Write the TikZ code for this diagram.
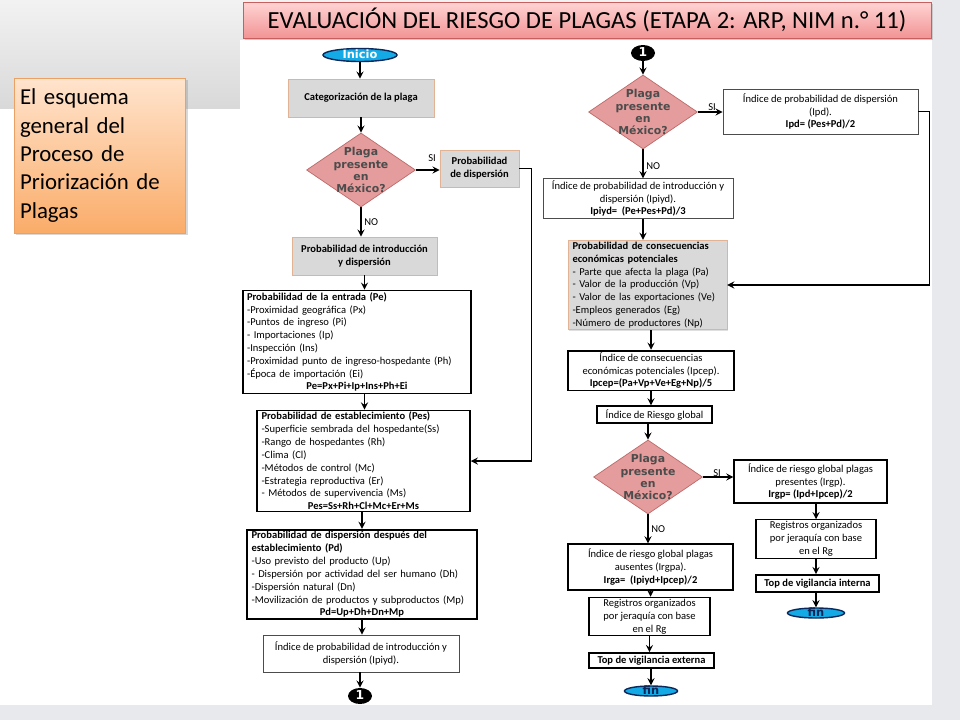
\documentclass[tikz,border=0pt]{standalone}
\usepackage{fontspec}
\setmainfont{Carlito}
\newfontfamily\diafont{DejaVu Sans}
\usetikzlibrary{shapes.geometric}
\usetikzlibrary{shadows}
\definecolor{slidegray}{RGB}{232,233,236}
\definecolor{boxgray}{RGB}{217,217,217}
\definecolor{boxedge}{RGB}{226,178,148}
\definecolor{rhombfill}{RGB}{228,156,156}
\definecolor{rhombedge}{RGB}{190,105,105}
\definecolor{termfill}{RGB}{20,170,230}
\definecolor{termedge}{RGB}{12,40,90}
\definecolor{titletop}{RGB}{255,212,212}
\definecolor{titlebot}{RGB}{242,148,148}
\definecolor{titleedge}{RGB}{200,95,95}
\definecolor{notetop}{RGB}{255,228,205}
\definecolor{notebot}{RGB}{250,172,105}
\definecolor{noteedge}{RGB}{235,160,100}
\newcommand\sumline[1]{\\\hspace*{\fill}\textbf{#1}\hspace*{\fill}\mbox{}}
\tikzset{
	every node/.style={font=\fontsize{6}{7.3}\selectfont},
	plainbox/.style={draw=black!70,fill=white,align=center,inner sep=1pt},
	boldbox/.style={plainbox,draw=black,line width=1pt},
	greybox/.style={plainbox,draw=boxedge,fill=boxgray,drop shadow={shadow xshift=0.6pt,shadow yshift=-0.6pt,opacity=0.25}},
	listbox/.style={draw=black,line width=1pt,fill=white,align=left,inner xsep=2.5pt,inner ysep=1pt},
	rhomb/.style={diamond,aspect=1.45,draw=rhombedge,fill=rhombfill,inner sep=-3pt,minimum width=2.18cm,minimum height=1.48cm,
		font=\diafont\bfseries\fontsize{6.2}{6.9}\selectfont,text=black!70,align=center},
	term/.style={ellipse,draw=termedge,line width=0.8pt,fill=termfill,inner sep=0pt,text height=3.6pt,text depth=0pt,
		font=\diafont\bfseries\fontsize{6.5}{6.5}\selectfont},
	onelink/.style={ellipse,fill=black,inner sep=0pt,minimum width=0.48cm,minimum height=0.32cm,text=white,
		text height=4pt,text depth=0pt,font=\diafont\bfseries\fontsize{7}{7}\selectfont},
	tag/.style={inner sep=0pt,font=\fontsize{6}{7}\selectfont},
	arr/.style={thick,->,>=stealth},
}

\begin{document}
\begin{tikzpicture}[x=0.02cm,y=-0.02cm]
	\useasboundingbox (0,0) rectangle (960,720);
	%SLIDE
	\fill[white] (0,0) rectangle (960,720);
	\shade[top color=black!5,bottom color=black!15] (0,0) rectangle (960,108);
	\fill[slidegray] (932,0) rectangle (960,720);
	\fill[slidegray] (0,705) rectangle (960,720);
	\fill[white] (240,40) rectangle (932,705);

	%TITLE AND NOTE
	\node[draw=titleedge,top color=titletop,bottom color=titlebot,minimum width=13.76cm,minimum height=0.72cm,
		drop shadow={shadow xshift=1pt,shadow yshift=-1pt,opacity=0.3},font=\fontsize{14}{16}\selectfont] (title) at (587,20)
		{EVALUACIÓN DEL RIESGO DE PLAGAS (ETAPA 2: ARP, NIM n.° 11)};
	\node[draw=noteedge,top color=notetop,bottom color=notebot,minimum width=3.4cm,minimum height=3.1cm,text width=3.2cm,
		align=left,drop shadow={shadow xshift=1pt,shadow yshift=-1pt,opacity=0.3},font=\fontsize{13}{16.2}\selectfont] (note) at (100,155.5)
		{El esquema\\general del\\Proceso de\\Priorización de\\Plagas};

	%LEFT COLUMN
	\node[term,minimum width=1.48cm,minimum height=0.26cm,text=white] (inicio) at (360,55) {Inicio};
	\node[greybox,font=\fontsize{6}{7.3}\selectfont\bfseries,minimum width=2.92cm,minimum height=0.76cm] (cat) at (361,98) {Categorización de la plaga};
	\node[rhomb] (dec1) at (361,170) {Plaga\\presente\\en\\México?};
	\node[greybox,font=\fontsize{6}{7.3}\selectfont\bfseries,minimum width=1.58cm,minimum height=0.74cm] (pdisp) at (479.5,168.5) {Probabilidad\\de dispersión};
	\node[greybox,font=\fontsize{6}{7.3}\selectfont\bfseries,minimum width=2.9cm,minimum height=0.76cm] (piyd) at (364.5,256) {Probabilidad de introducción\\y dispersión};
	\node[listbox,text width=4.4cm] (pe) at (357,342)
		{\textbf{Probabilidad de la entrada (Pe)}\\-Proximidad geográfica (Px)\\-Puntos de ingreso (Pi)\\- Importaciones (Ip)\\-Inspección (Ins)\\
		-Proximidad punto de ingreso-hospedante (Ph)\\-Época de importación (Ei)\sumline{Pe=Px+Pi+Ip+Ins+Ph+Ei}};
	\node[listbox,text width=4.08cm] (pes) at (363.5,461)
		{\textbf{Probabilidad de establecimiento (Pes)}\\-Superficie sembrada del hospedante(Ss)\\-Rango de hospedantes (Rh)\\-Clima (Cl)\\
		-Métodos de control (Mc)\\-Estrategia reproductiva (Er)\\- Métodos de supervivencia (Ms)\sumline{Pes=Ss+Rh+Cl+Mc+Er+Ms}};
	\node[listbox,text width=4.42cm] (pd) at (362,574.5)
		{\textbf{Probabilidad de dispersión después del}\\\textbf{establecimiento (Pd)}\\-Uso previsto del producto (Up)\\
		- Dispersión por actividad del ser humano (Dh)\\-Dispersión natural (Dn)\\-Movilización de productos y subproductos (Mp)\sumline{Pd=Up+Dh+Dn+Mp}};
	\node[plainbox,minimum width=3.92cm,minimum height=0.74cm] (ipiyd) at (361,653.5) {Índice de probabilidad de introducción y\\dispersión (Ipiyd).};
	\node[onelink] (outone) at (360,696) {1};
	%
	\node[tag] (si1) at (432,158) {SI};
	\node[tag,anchor=west] (no1) at (364,222) {NO};
	%
	\draw[arr] (inicio.south) -- (inicio.south |- cat.north);
	\draw[arr] (cat.south) -- (cat.south |- dec1.north);
	\draw[arr] (dec1.east) -- (dec1.east -| pdisp.west);
	\draw[arr] (dec1.south) -- (dec1.south |- piyd.north);
	\draw[arr] (piyd.south) -- (piyd.south |- pe.north);
	\draw[arr] (piyd.south |- pe.south) -- (piyd.south |- pes.north);
	\draw[arr] (pd.north |- pes.south) -- (pd.north);
	\draw[arr] (pd.south) -- (pd.south |- ipiyd.north);
	\draw[arr] (outone.north |- ipiyd.south) -- (outone.north);
	\draw[arr] (pdisp.east) -- ++(12,0) |- (pes.east);

	%RIGHT COLUMN
	\node[onelink] (inone) at (643,53) {1};
	\node[rhomb] (dec2) at (643,112) {Plaga\\presente\\en\\México?};
	\node[plainbox,minimum width=3.9cm,minimum height=0.9cm] (ipd) at (820.5,111.5) {Índice de probabilidad de dispersión\\(Ipd).\\\textbf{Ipd= (Pes+Pd)/2}};
	\node[plainbox,minimum width=3.8cm,minimum height=0.74cm] (ipiydb) at (638,198.5) {Índice de probabilidad de introducción y\\dispersión (Ipiyd).\\\textbf{Ipiyd=~ (Pe+Pes+Pd)/3}};
	\node[greybox,align=left,text width=3.0cm,inner xsep=2.5pt] (pcep) at (647.5,285)
		{\textbf{Probabilidad de consecuencias}\\\textbf{económicas potenciales}\\- Parte que afecta la plaga (Pa)\\- Valor de la producción (Vp)\\
		- Valor de las exportaciones (Ve)\\-Empleos generados (Eg)\\-Número de productores (Np)};
	\node[boldbox,minimum width=3.32cm,minimum height=0.74cm] (ipcep) at (651,370.5) {Índice de consecuencias\\económicas potenciales (Ipcep).\\\textbf{Ipcep=(Pa+Vp+Ve+Eg+Np)/5}};
	\node[plainbox,draw=black,line width=0.7pt,minimum width=2.3cm,minimum height=0.34cm] (rg) at (654.5,414.5) {Índice de Riesgo global};
	\node[rhomb] (dec3) at (648,477) {Plaga\\presente\\en\\México?};
	\node[plainbox,draw=black,line width=0.7pt,minimum width=3.06cm,minimum height=0.86cm] (irgp) at (810.5,481.5) {Índice de riesgo global plagas\\presentes (Irgp).\\\textbf{Irgp= (Ipd+Ipcep)/2}};
	\node[plainbox,draw=black,line width=0.7pt,minimum width=2.4cm,minimum height=0.72cm] (regb) at (816,539) {Registros organizados\\por jeraquía con base\\en el Rg};
	\node[boldbox,font=\fontsize{6}{7.3}\selectfont\bfseries,minimum width=2.46cm,minimum height=0.34cm] (topin) at (817.5,583.5) {Top de vigilancia interna};
	\node[term,minimum width=1.14cm,minimum height=0.2cm,text=termedge] (finb) at (816,613) {fin};
	\node[plainbox,draw=black,line width=0.7pt,minimum width=3.3cm,minimum height=0.92cm] (irga) at (650.5,567) {Índice de riesgo global plagas\\ausentes (Irgpa).\\\textbf{Irga=~ (Ipiyd+Ipcep)/2}};
	\node[plainbox,draw=black,line width=0.7pt,minimum width=2.42cm,minimum height=0.74cm] (rega) at (649.5,616.5) {Registros organizados\\por jeraquía con base\\en el Rg};
	\node[boldbox,font=\fontsize{6}{7.3}\selectfont\bfseries,minimum width=2.5cm,minimum height=0.3cm] (topex) at (651.5,660.5) {Top de vigilancia externa};
	\node[term,minimum width=1.06cm,minimum height=0.2cm,text=termedge] (fina) at (651,691) {fin};
	%
	\node[tag] (si2) at (712,107) {SI};
	\node[tag,anchor=west] (no2) at (646,166) {NO};
	\node[tag] (si3) at (717,473) {SI};
	\node[tag,anchor=west] (no3) at (651,529) {NO};
	%
	\draw[arr] (inone.south) -- (inone.south |- dec2.north);
	\draw[arr] (dec2.east) -- (dec2.east -| ipd.west);
	\draw[arr] (dec2.south) -- (dec2.south |- ipiydb.north);
	\draw[arr] (dec2.south |- ipiydb.south) -- (dec2.south |- pcep.north);
	\draw[arr] (ipd.east) -- ++(11,0) |- (pcep.east);
	\draw[arr] (ipcep.north |- pcep.south) -- (ipcep.north);
	\draw[arr] (ipcep.south) -- (ipcep.south |- rg.north);
	\draw[arr] (dec3.north |- rg.south) -- (dec3.north);
	\draw[arr] (dec3.east) -- (dec3.east -| irgp.west);
	\draw[arr] (regb.north |- irgp.south) -- (regb.north);
	\draw[arr] (regb.south) -- (regb.south |- topin.north);
	\draw[arr] (finb.north |- topin.south) -- (finb.north);
	\draw[arr] (dec3.south) -- (dec3.south |- irga.north);
	\draw[arr] (irga.south) -- (irga.south |- rega.north);
	\draw[arr] (rega.south) -- (rega.south |- topex.north);
	\draw[arr] (fina.north |- topex.south) -- (fina.north);
\end{tikzpicture}
\end{document}
